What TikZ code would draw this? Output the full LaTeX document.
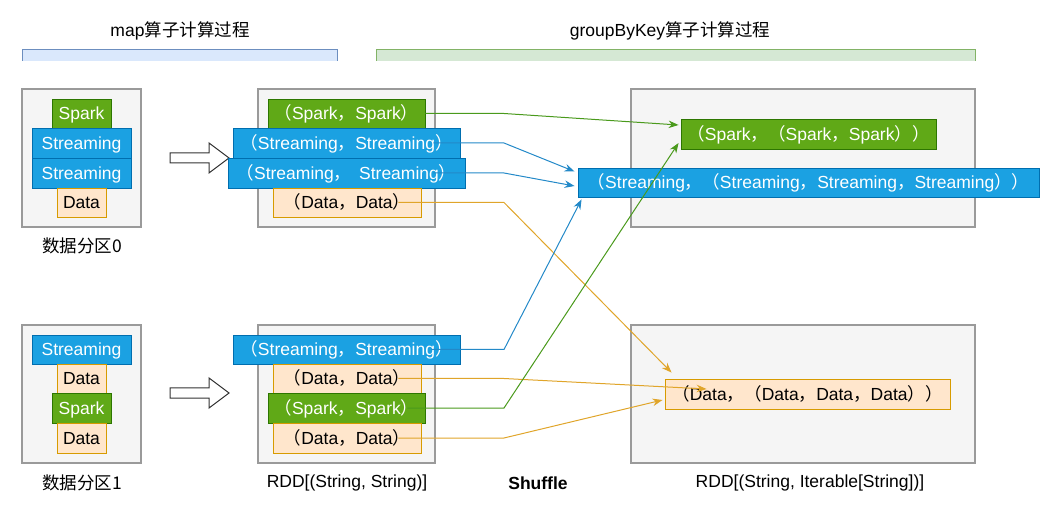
\documentclass[tikz,border=0pt]{standalone}
\usepackage{fontspec}
\setmainfont{Liberation Sans}
\newfontfamily\cjk{Noto Sans CJK SC}
\usetikzlibrary{calc,arrows.meta}
\definecolor{gfill}{HTML}{60A917}
\definecolor{gline}{HTML}{2D7600}
\definecolor{bfill}{HTML}{1BA1E2}
\definecolor{bline}{HTML}{006EAF}
\definecolor{ofill}{HTML}{FFE6CC}
\definecolor{oline}{HTML}{D79B00}
\definecolor{pfill}{HTML}{F5F5F5}
\definecolor{pline}{HTML}{9A9A9A}
\definecolor{gedge}{HTML}{4A9A1C}
\definecolor{bedge}{HTML}{2389C8}
\definecolor{oedge}{HTML}{E0A52A}
\definecolor{barb}{HTML}{DAE8FC}
\definecolor{barbl}{HTML}{6C8EBF}
\definecolor{barg}{HTML}{D5E8D4}
\definecolor{bargl}{HTML}{82B366}
\newcommand{\zlp}{{\cjk （}}
\newcommand{\zcm}{{\cjk ，}}
\newcommand{\zrp}{{\cjk ）}}
\begin{document}
\begin{tikzpicture}[x=1pt,y=-1pt,
  every node/.style={font=\fontsize{17.5}{21}\selectfont, inner sep=0pt},
  part/.style={draw=pline, fill=pfill, line width=1.2pt},
  item/.style={line width=0.9pt, text height=12.5pt, text depth=0pt},
  gn/.style={item, draw=gline, fill=gfill, text=white},
  bn/.style={item, draw=bline, fill=bfill, text=white},
  on/.style={item, draw=oline, fill=ofill, text=black},
  lbl/.style={text=black},
  ed/.style={line width=1pt, -{Stealth[length=10pt,width=7.5pt]}},
  hollow/.style={draw=black!80, fill=white, line width=1pt}
]
\useasboundingbox (0,0) rectangle (1052,518);

% titles and bars
\node[lbl] (t1) at (180,31) {map{\cjk 算子计算过程}};
\node[lbl] (t2) at (670,31) {groupByKey{\cjk 算子计算过程}};
\fill[barb] (22,50) rectangle (337,61);
\draw[barbl, line width=1pt] (22,61) |- (337,50) -- (337,61);
\fill[barg] (376,50) rectangle (975,61);
\draw[bargl, line width=1pt] (376,61) |- (975,50) -- (975,61);

% partition 0
\node[part, minimum width=119pt, minimum height=138pt] (p0) at (81.5,158) {};
\node[gn, minimum width=59pt, minimum height=29pt] (p0a) at (81.5,113.5) {Spark};
\node[bn, minimum width=99pt, minimum height=30pt] (p0b) at (81.5,143) {Streaming};
\node[bn, minimum width=99pt, minimum height=30pt] (p0c) at (81.5,173) {Streaming};
\node[on, minimum width=49pt, minimum height=29pt] (p0d) at (81.5,202.5) {Data};
\node[lbl] (l0) at (82,246) {\cjk 数据分区0};

% partition 1
\node[part, minimum width=119pt, minimum height=138pt] (p1) at (81.5,394) {};
\node[bn, minimum width=99pt, minimum height=29pt] (p1a) at (81.5,349.5) {Streaming};
\node[on, minimum width=49pt, minimum height=29pt] (p1b) at (81.5,378.5) {Data};
\node[gn, minimum width=59pt, minimum height=30pt] (p1c) at (81.5,408) {Spark};
\node[on, minimum width=49pt, minimum height=30pt] (p1d) at (81.5,438) {Data};
\node[lbl] (l1) at (82,483) {\cjk 数据分区1};

% hollow arrows
\draw[hollow] (170,153) -- (209,153) -- (209,143) -- (229,158) -- (209,173) -- (209,163) -- (170,163) -- cycle;
\draw[hollow] (170,388) -- (209,388) -- (209,378) -- (229,393) -- (209,408) -- (209,398) -- (170,398) -- cycle;

% mid 0
\node[part, minimum width=177pt, minimum height=138pt] (m0) at (346.5,158) {};
\node[gn, minimum width=157pt, minimum height=29pt] (m0a) at (346.5,113.5) {\zlp Spark\zcm Spark\zrp};
\node[bn, minimum width=227pt, minimum height=30pt] (m0b) at (346.5,143) {\zlp Streaming\zcm Streaming\zrp};
\node[bn, minimum width=237pt, minimum height=30pt] (m0c) at (346.5,173) {\zlp Streaming\zcm\, Streaming\zrp};
\node[on, minimum width=148pt, minimum height=29pt] (m0d) at (347,202.5) {\zlp Data\zcm Data\zrp};

% mid 1
\node[part, minimum width=177pt, minimum height=138pt] (m1) at (346.5,394) {};
\node[bn, minimum width=227pt, minimum height=29pt] (m1a) at (346.5,349.5) {\zlp Streaming\zcm Streaming\zrp};
\node[on, minimum width=148pt, minimum height=29pt] (m1b) at (347,378.5) {\zlp Data\zcm Data\zrp};
\node[gn, minimum width=157pt, minimum height=30pt] (m1c) at (346.5,408) {\zlp Spark\zcm Spark\zrp};
\node[on, minimum width=148pt, minimum height=30pt] (m1d) at (347,438) {\zlp Data\zcm Data\zrp};
\node[lbl] (l2) at (347,483) {RDD[(String, String)]};

% right
\node[part, minimum width=344pt, minimum height=138pt] (r0) at (803,158) {};
\node[part, minimum width=344pt, minimum height=138pt] (r1) at (803,394) {};
\node[gn, minimum width=255pt, minimum height=30pt] (rs) at (808.5,134) {\zlp Spark\zcm\zlp Spark\zcm Spark\zrp\zrp};
\node[bn, minimum width=461pt, minimum height=29pt] (rst) at (808.5,182.5) {\zlp Streaming\zcm\zlp Streaming\zcm Streaming\zcm Streaming\zrp\zrp};
\node[on, minimum width=285pt, minimum height=30pt] (rd) at (807.5,394) {\zlp Data\zcm\zlp Data\zcm Data\zcm Data\zrp\zrp};
\node[lbl, font=\fontsize{17.5}{21}\selectfont\bfseries] (sh) at (538,483) {Shuffle};
\node[lbl] (l3) at (810,483) {RDD[(String, Iterable[String])]};

% connectors
\coordinate (bx) at (504,0);
\coordinate (s1) at (m0a.east);
\coordinate (s2) at ($(m0b.east)+(-27,0)$);
\coordinate (s3) at ($(m0c.east)+(-32,0)$);
\coordinate (s4) at ($(m0d.east)+(-23,0)$);
\coordinate (s5) at ($(m1a.east)+(-29,0)$);
\coordinate (s6) at ($(m1b.east)+(-23,0)$);
\coordinate (s7) at ($(m1c.east)+(-18,0)$);
\coordinate (s8) at ($(m1d.east)+(-23,0)$);

\draw[ed, gedge] (s1) -- (s1 -| bx) -- ($(rs.west)+(-2,-9)$);
\draw[ed, bedge] (s2) -- (s2 -| bx) -- ($(rst.west)+(-3,-11)$);
\draw[ed, bedge] (s3) -- (s3 -| bx) -- ($(rst.west)+(-3,3.5)$);
\draw[ed, oedge] (s4) -- (s4 -| bx) -- ($(rd.north west)+(7,-6)$);
\draw[ed, bedge] (s5) -- (s5 -| bx) -- ($(rst.south west)+(4,2)$);
\draw[ed, oedge] (s6) -- (s6 -| bx) -- ($(rd.west)+(42,-5)$);
\draw[ed, gedge] (s7) -- (s7 -| bx) -- ($(rs.west)+(-2,9)$);
\draw[ed, oedge] (s8) -- (s8 -| bx) -- ($(rd.west)+(-2,6)$);
\end{tikzpicture}
\end{document}
